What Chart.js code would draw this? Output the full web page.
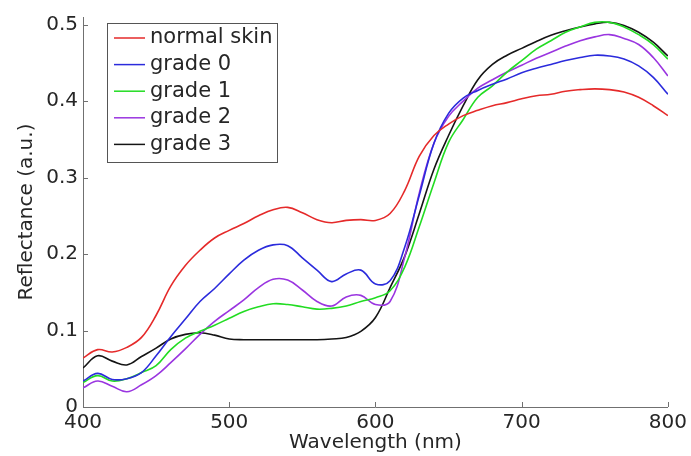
<!DOCTYPE html>
<html>
<head>
<meta charset="utf-8">
<script src="https://cdn.jsdelivr.net/npm/chart.js@4"></script>
<style>
  html, body { margin: 0; padding: 0; background: #fff; }
</style>
</head>
<body>
<canvas id="spectra" width="691" height="456"></canvas>
<script>
// Wavelength samples (nm) and reflectance
const wavelengths = [400, 410, 420, 430, 440, 450, 460, 470, 480, 490,
  500, 510, 520, 530, 540, 550, 560, 570, 580, 590,
  600, 610, 620, 630, 640, 650, 660, 670, 680, 690,
  700, 710, 720, 730, 740, 750, 760, 770, 780, 790, 800];

const normalSkin = [0.064, 0.075, 0.072, 0.078, 0.091, 0.120, 0.158, 0.185, 0.205, 0.221,
  0.231, 0.240, 0.250, 0.258, 0.261, 0.254, 0.245, 0.241, 0.244, 0.245,
  0.244, 0.253, 0.283, 0.328, 0.355, 0.370, 0.381, 0.388, 0.394, 0.398,
  0.403, 0.407, 0.409, 0.413, 0.415, 0.416, 0.415, 0.412, 0.405, 0.394, 0.381];

const grade0 = [0.034, 0.044, 0.036, 0.037, 0.045, 0.067, 0.092, 0.115, 0.138, 0.155,
  0.174, 0.192, 0.205, 0.212, 0.211, 0.195, 0.179, 0.164, 0.174, 0.179,
  0.161, 0.165, 0.209, 0.277, 0.345, 0.384, 0.404, 0.414, 0.422, 0.429,
  0.437, 0.443, 0.448, 0.453, 0.457, 0.460, 0.459, 0.455, 0.446, 0.431, 0.409];

const grade1 = [0.032, 0.041, 0.034, 0.037, 0.045, 0.054, 0.075, 0.090, 0.099, 0.107,
  0.116, 0.125, 0.131, 0.135, 0.134, 0.131, 0.128, 0.129, 0.132, 0.138,
  0.143, 0.152, 0.183, 0.236, 0.293, 0.346, 0.376, 0.405, 0.420, 0.438,
  0.453, 0.468, 0.479, 0.490, 0.497, 0.503, 0.503, 0.497, 0.487, 0.474, 0.455];

const grade2 = [0.025, 0.034, 0.027, 0.020, 0.029, 0.041, 0.058, 0.076, 0.095, 0.112,
  0.126, 0.140, 0.156, 0.167, 0.166, 0.153, 0.138, 0.132, 0.144, 0.146,
  0.134, 0.138, 0.196, 0.280, 0.345, 0.380, 0.400, 0.417, 0.428, 0.438,
  0.447, 0.456, 0.464, 0.472, 0.479, 0.484, 0.487, 0.482, 0.474, 0.457, 0.433];

const grade3 = [0.051, 0.067, 0.060, 0.055, 0.066, 0.077, 0.089, 0.095, 0.097, 0.094,
  0.089, 0.088, 0.088, 0.088, 0.088, 0.088, 0.088, 0.089, 0.091, 0.099,
  0.117, 0.156, 0.197, 0.253, 0.311, 0.355, 0.394, 0.428, 0.448, 0.460,
  0.469, 0.478, 0.486, 0.492, 0.497, 0.501, 0.503, 0.499, 0.490, 0.477, 0.459];

const seriesLabels = ["normal skin", "grade 0", "grade 1", "grade 2", "grade 3"];
const seriesValues = [normalSkin, grade0, grade1, grade2, grade3];
const seriesColors = ["#e52a2a", "#2b2bdc", "#22dc22", "#9a35e0", "#141414"];

const fontFamily = "'DejaVu Sans', sans-serif";
const textColor = "#262626";
const axisColor = "#707070";

// MATLAB-style inward tick marks
const inwardTicks = {
  id: "inwardTicks",
  afterDraw(chart) {
    const { ctx, chartArea, scales } = chart;
    ctx.save();
    ctx.strokeStyle = axisColor;
    ctx.lineWidth = 1;
    ctx.beginPath();
    scales.x.ticks.forEach((t) => {
      const px = Math.round(scales.x.getPixelForValue(t.value)) + 0.5;
      ctx.moveTo(px, chartArea.bottom);
      ctx.lineTo(px, chartArea.bottom - 5);
    });
    scales.y.ticks.forEach((t) => {
      const py = Math.round(scales.y.getPixelForValue(t.value)) + 0.5;
      ctx.moveTo(chartArea.left, py);
      ctx.lineTo(chartArea.left + 5, py);
    });
    ctx.stroke();
    ctx.restore();
  },
};

// Boxed legend inside the plot, top-left
const boxedLegend = {
  id: "boxedLegend",
  afterDatasetsDraw(chart) {
    const { ctx } = chart;
    const left = 107, top = 23, width = 170, height = 139, rowGap = 26.6;
    ctx.save();
    ctx.fillStyle = "#fff";
    ctx.fillRect(left, top, width, height);
    ctx.strokeStyle = "#555";
    ctx.lineWidth = 1;
    ctx.strokeRect(left + 0.5, top + 0.5, width, height);
    ctx.font = "21px " + fontFamily;
    ctx.textBaseline = "middle";
    chart.data.datasets.forEach((ds, i) => {
      const y = top + 15 + i * rowGap;
      ctx.strokeStyle = ds.borderColor;
      ctx.lineWidth = 1.5;
      ctx.beginPath();
      ctx.moveTo(left + 7, y);
      ctx.lineTo(left + 38, y);
      ctx.stroke();
      ctx.fillStyle = textColor;
      ctx.fillText(ds.label, left + 43, y);
    });
    ctx.restore();
  },
};

const datasets = seriesLabels.map((label, i) => ({
  label: label,
  data: wavelengths.map((w, j) => ({ x: w, y: seriesValues[i][j] })),
  borderColor: seriesColors[i],
  backgroundColor: seriesColors[i],
  borderWidth: 1.6,
  pointRadius: 0,
  tension: 0.4,
  fill: false,
}));

new Chart(document.getElementById("spectra"), {
  type: "line",
  data: { datasets },
  plugins: [inwardTicks, boxedLegend],
  options: {
    responsive: false,
    animation: false,
    layout: { padding: { top: 13, right: 22, bottom: 0, left: 0 } },
    plugins: {
      legend: { display: false },
      tooltip: { enabled: false },
    },
    scales: {
      x: {
        type: "linear",
        min: 400,
        max: 800,
        afterFit: (scale) => { scale.height = 49; },
        grid: { display: false, drawTicks: false },
        border: { display: true, color: axisColor, width: 1 },
        ticks: {
          stepSize: 100,
          padding: 4,
          color: textColor,
          font: { family: fontFamily, size: 20 },
          maxRotation: 0,
        },
        title: {
          display: true,
          text: "Wavelength (nm)",
          color: textColor,
          font: { family: fontFamily, size: 20 },
          padding: { top: 0, bottom: 1 },
        },
      },
      y: {
        min: 0,
        max: 0.51,
        afterFit: (scale) => { scale.width = 83; },
        grid: { display: false, drawTicks: false },
        border: { display: true, color: axisColor, width: 1 },
        ticks: {
          stepSize: 0.1,
          includeBounds: false,
          padding: 5,
          color: textColor,
          font: { family: fontFamily, size: 20 },
        },
        title: {
          display: true,
          text: "Reflectance (a.u.)",
          color: textColor,
          font: { family: fontFamily, size: 20 },
          padding: { top: 15, bottom: 0 },
        },
      },
    },
  },
});
</script>
</body>
</html>
